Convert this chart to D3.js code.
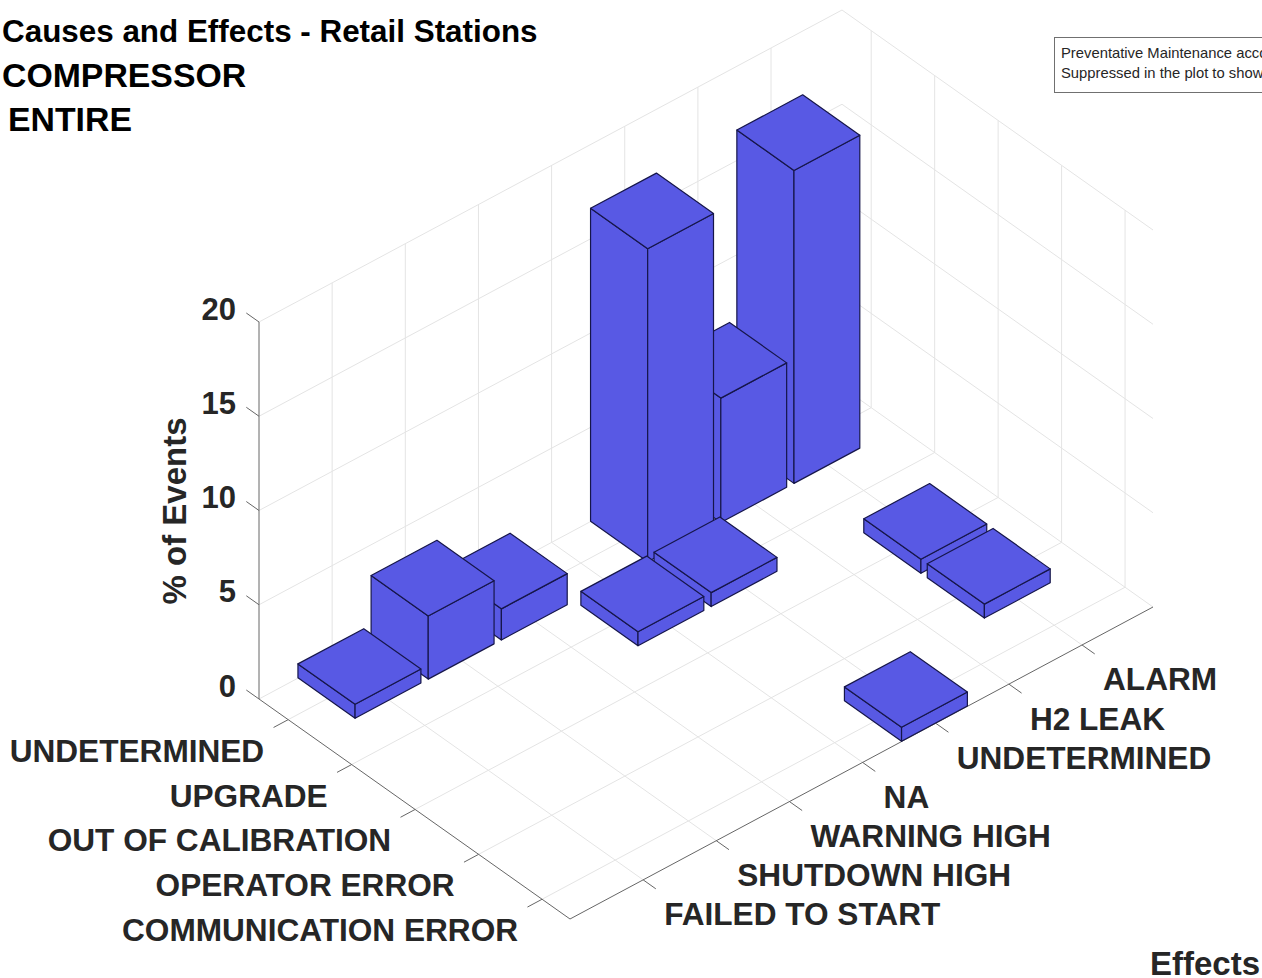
<!DOCTYPE html>
<html><head><meta charset="utf-8">
<script src="https://cdn.jsdelivr.net/npm/d3@7/dist/d3.min.js"></script>
<style>html,body{margin:0;padding:0;background:#fff;overflow:hidden}svg{display:block}text{font-family:"Liberation Sans",Arial,sans-serif}</style>
</head><body><svg id="c" width="1262" height="978"></svg>
<script>
const causes = ["UNDETERMINED","UPGRADE","OUT OF CALIBRATION","OPERATOR ERROR","COMMUNICATION ERROR"];
const effects = ["FAILED TO START","SHUTDOWN HIGH","WARNING HIGH","NA","UNDETERMINED","H2 LEAK","ALARM"];
const zTicks = [0,5,10,15,20];
const valUndetermined = [0.74,3.35,1.65,0,16.6,6.6,16.6];
const valUpgrade      = [0,0,0,0.74,0.74,0,0];
const valCalibration  = [0,0,0,0,0,0,0.74];
const valOperator     = [0,0,0,0,0,0,0.74];
const valCommunication= [0,0,0,0,0.74,0,0];
const matrix = [valUndetermined,valUpgrade,valCalibration,valOperator,valCommunication];
const titles = ["Causes and Effects - Retail Stations","COMPRESSOR"," ENTIRE"];
const noteLines = ["Preventative Maintenance accounts","Suppressed in the plot to show"];

const svg = d3.select("#c");
// oblique projection built from three linear scales
const aX = d3.scaleLinear().domain([-0.46,4.44]).range([0,311]);
const aY = d3.scaleLinear().domain([-0.46,4.44]).range([0,220]);
const bX = d3.scaleLinear().domain([0,7.97]).range([0,583]);
const bY = d3.scaleLinear().domain([0,7.97]).range([0,-312]);
const zY = d3.scaleLinear().domain([0,20]).range([0,-377]);
const origin = [259,699];
const P = (a,b,z=0)=>[origin[0]+aX(a)+bX(b), origin[1]+aY(a)+bY(b)+zY(z)];
const aMin=-0.46,aMax=4.44,bMin=0,bMax=7.97;
const line = d3.line();
const gridColor="#e4e4e4", axisColor="#666666";
const gGrid = svg.append("g").attr("fill","none").attr("stroke",gridColor).attr("stroke-width",1);
const seg=(g,p,q)=>g.append("path").attr("d",line([p,q]));
causes.forEach((_,i)=>{
  seg(gGrid,P(i,bMin),P(i,bMax));
  seg(gGrid,P(i,bMax),P(i,bMax,20));
});
effects.forEach((_,j)=>{
  seg(gGrid,P(aMin,j+1),P(aMax,j+1));
  seg(gGrid,P(aMin,j+1),P(aMin,j+1,20));
});
zTicks.forEach(z=>{
  seg(gGrid,P(aMin,bMin,z),P(aMin,bMax,z));
  seg(gGrid,P(aMin,bMax,z),P(aMax,bMax,z));
});
const gAxis = svg.append("g").attr("fill","none").attr("stroke",axisColor).attr("stroke-width",1);
seg(gAxis,P(aMin,bMin,0),P(aMax,bMin,0));
seg(gAxis,P(aMax,bMin,0),P(aMax,bMax,0));
seg(gAxis,P(aMin,bMin,0),P(aMin,bMin,20));
causes.forEach((_,i)=>seg(gAxis,P(i,bMin),P(i,bMin-0.2)));
effects.forEach((_,j)=>seg(gAxis,P(aMax,j+1),P(aMax+0.2,j+1)));
zTicks.forEach(z=>seg(gAxis,P(aMin,bMin,z),P(aMin-0.2,bMin,z)));

// bars
const bars=[];
const nudge=-0.014;
matrix.forEach((row,i)=>row.forEach((v,j)=>{ if(v>0) bars.push({a:i+nudge,b:j+1+nudge,v}); }));
bars.sort((p,q)=>(p.a-p.b)-(q.a-q.b));
const w=0.45;
const gBars=svg.append("g").attr("fill","#5859e4").attr("stroke","#16164a").attr("stroke-width",1.2).attr("stroke-linejoin","round");
const bar=gBars.selectAll("g").data(bars).join("g");
const poly=pts=>line(pts)+"Z";
bar.append("path").attr("d",d=>poly([P(d.a-w,d.b-w,0),P(d.a+w,d.b-w,0),P(d.a+w,d.b-w,d.v),P(d.a-w,d.b-w,d.v)]));
bar.append("path").attr("d",d=>poly([P(d.a+w,d.b-w,0),P(d.a+w,d.b+w,0),P(d.a+w,d.b+w,d.v),P(d.a+w,d.b-w,d.v)]));
bar.append("path").attr("d",d=>poly([P(d.a-w,d.b-w,d.v),P(d.a+w,d.b-w,d.v),P(d.a+w,d.b+w,d.v),P(d.a-w,d.b+w,d.v)]));

// labels
const dark="#262626";
const lab=(x,y,t,fs,anchor,fill)=>svg.append("text").attr("x",x).attr("y",y).attr("font-size",fs).attr("font-weight","bold").attr("text-anchor",anchor).attr("fill",fill||dark).text(t);
zTicks.forEach(z=>{const p=P(aMin,bMin,z);lab(p[0]-23,p[1]-2.5,z,31,"end");});
causes.forEach((t,i)=>{const p=P(i,bMin);lab(p[0]-24,p[1]+42,t,31.6,"end");});
effects.forEach((t,j)=>{const p=P(aMax,j+1);lab(p[0]+21,p[1]+45.5,t,31.6,"start");});
svg.append("text").attr("transform","translate(186,511) rotate(-90)").attr("text-anchor","middle").attr("font-size",33).attr("font-weight","bold").attr("fill",dark).text("% of Events");
lab(1150,975,"Effects",33,"start");
lab(2,42,titles[0],31.4,"start","#000");
lab(2,87,titles[1],33.8,"start","#000");
lab(8,131,titles[2].trim(),33.8,"start","#000");
// note box
svg.append("rect").attr("x",1054.5).attr("y",37.5).attr("width",230).attr("height",55).attr("fill","#fff").attr("stroke","#707070");
noteLines.forEach((t,i)=>svg.append("text").attr("x",1061).attr("y",58+i*20).attr("font-size",14.8).attr("fill",dark).text(t));
</script></body></html>
